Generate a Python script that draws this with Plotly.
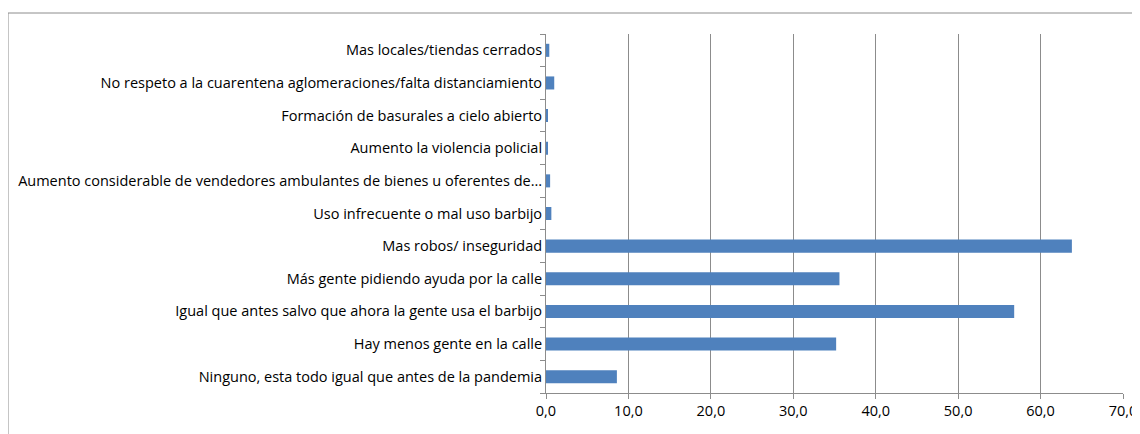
import plotly.graph_objects as go

# categories listed bottom to top, as drawn
categories = [
    "Ninguno, esta todo igual que antes de la pandemia",
    "Hay menos gente en la calle",
    "Igual que antes salvo que ahora la gente usa el barbijo",
    "Más gente pidiendo ayuda por la calle",
    "Mas robos/ inseguridad",
    "Uso infrecuente o mal uso barbijo",
    "Aumento considerable de vendedores ambulantes de bienes u oferentes de...",
    "Aumento la violencia policial",
    "Formación de basurales a cielo abierto",
    "No respeto a la cuarentena aglomeraciones/falta distanciamiento",
    "Mas locales/tiendas cerrados",
]
values = [8.6, 35.2, 56.8, 35.6, 63.8, 0.65, 0.5, 0.15, 0.15, 1.0, 0.4]
x_ticks = [0, 10, 20, 30, 40, 50, 60, 70]

fig = go.Figure(
    go.Bar(
        x=values,
        y=categories,
        orientation="h",
        marker=dict(color="#4F81BD", line=dict(width=0)),
        showlegend=False,
    )
)

# page body has an 8px margin, so the figure is a bit smaller than the window
fig.update_layout(
    width=1132,
    height=426,
    paper_bgcolor="white",
    plot_bgcolor="white",
    separators=",.",
    bargap=0.6,
    font=dict(family="Open Sans, sans-serif", size=14.5, color="black"),
    margin=dict(l=538, r=17, t=26, b=41),
    xaxis=dict(
        range=[0, 70],
        tickvals=x_ticks,
        tickformat=".1f",
        showgrid=True,
        gridcolor="#8C8C8C",
        gridwidth=1,
        showline=True,
        linecolor="#8C8C8C",
        ticks="outside",
        ticklen=5,
        tickcolor="#8C8C8C",
        zeroline=False,
        automargin=False,
        fixedrange=True,
    ),
    yaxis=dict(
        categoryorder="array",
        categoryarray=categories,
        showline=True,
        linecolor="#8C8C8C",
        ticks="outside",
        tickson="boundaries",
        ticklen=5,
        tickcolor="#8C8C8C",
        showgrid=False,
        automargin=False,
        fixedrange=True,
    ),
    shapes=[
        dict(
            type="rect", xref="paper", yref="paper",
            x0=-538 / 577, x1=1.2, y0=-0.3, y1=1 + 21 / 359,
            line=dict(color="#8C8C8C", width=1),
            layer="below",
        )
    ],
)

fig.write_html("out.html")
